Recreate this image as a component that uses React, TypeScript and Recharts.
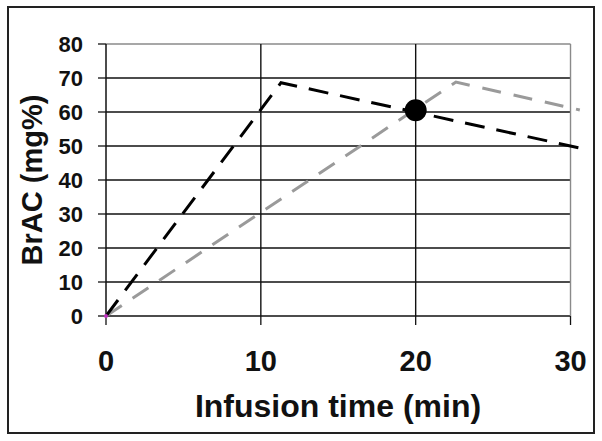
import React from 'react';
import { LineChart, Line, XAxis, YAxis, ReferenceLine, ReferenceDot, Label } from 'recharts';

const xTicks = [0, 10, 20, 30];
const yTicks = [0, 10, 20, 30, 40, 50, 60, 70, 80];
const blackTimes = [0, 11.3, 30.8];
const blackValues = [0, 68.6, 49.2];
const grayTimes = [0, 22.6, 30.6];
const grayValues = [0, 68.8, 60.6];
const markerTime = 20;
const markerValue = 60.5;
const xTitle = 'Infusion time (min)';
const yTitle = 'BrAC (mg%)';

const blackData = blackTimes.map((t, i) => ({ t, v: blackValues[i] }));
const grayData = grayTimes.map((t, i) => ({ t, v: grayValues[i] }));

const FONT = '"Liberation Sans", Arial, sans-serif';
const X_MAX = 30;
const Y_MAX = 80;

export default function App() {
  return (
    <div style={{ position: 'absolute', left: 0, top: 0, width: 602, height: 441, background: '#fff' }}>
      <div
        style={{
          position: 'absolute',
          left: 7,
          top: 6,
          width: 584,
          height: 424,
          border: '2px solid #222',
        }}
      />
      <div style={{ position: 'absolute', left: 0, top: 0 }}>
        <LineChart
          width={602}
          height={441}
          margin={{ top: 44, right: 16, bottom: 0, left: 46 }}
          style={{ fontFamily: FONT }}
        >
          <XAxis
            type="number"
            dataKey="t"
            domain={[0, 31]}
            ticks={xTicks}
            allowDataOverflow
            axisLine={false}
            tickLine={{ stroke: '#111', strokeWidth: 1.3 }}
            tickSize={9}
            tickMargin={25}
            height={125}
            tick={{ fill: '#111', fontSize: 29, fontWeight: 'bold', fontFamily: FONT }}
          >
            <Label
              content={(props: any) => {
                const vb = props.viewBox;
                return (
                  <text
                    x={338}
                    y={vb.y + 101}
                    textAnchor="middle"
                    fontSize={32}
                    fontWeight="bold"
                    fontFamily={FONT}
                    fill="#111"
                  >
                    {xTitle}
                  </text>
                );
              }}
            />
          </XAxis>
          <YAxis
            type="number"
            dataKey="v"
            domain={[0, Y_MAX]}
            ticks={yTicks}
            axisLine={{ stroke: '#111', strokeWidth: 1.5 }}
            tickLine={{ stroke: '#111', strokeWidth: 1.3 }}
            tickSize={8}
            tickMargin={15}
            width={60}
            tick={{ fill: '#111', fontSize: 22, fontWeight: 'bold', fontFamily: FONT }}
          >
            <Label
              content={() => (
                <text
                  x={0}
                  y={0}
                  transform={`translate(42, 180) rotate(-90)`}
                  textAnchor="middle"
                  fontSize={29}
                  fontWeight="bold"
                  fontFamily={FONT}
                  fill="#111"
                >
                  {yTitle}
                </text>
              )}
            />
          </YAxis>
          {yTicks.map((y) => (
            <ReferenceLine
              key={'h' + y}
              segment={[
                { x: 0, y },
                { x: X_MAX, y },
              ]}
              stroke={y === Y_MAX ? '#8a8a8a' : '#111'}
              strokeWidth={1.4}
              ifOverflow="visible"
            />
          ))}
          {xTicks
            .filter((x) => x > 0)
            .map((x) => (
              <ReferenceLine
                key={'v' + x}
                segment={[
                  { x, y: 0 },
                  { x, y: Y_MAX },
                ]}
                stroke={x === X_MAX ? '#8a8a8a' : '#111'}
                strokeWidth={1.4}
                ifOverflow="visible"
              />
            ))}
          <Line
            data={grayData}
            dataKey="v"
            type="linear"
            stroke="#9a9a9a"
            strokeWidth={3}
            strokeDasharray="19 13"
            dot={false}
            activeDot={false}
            isAnimationActive={false}
          />
          <Line
            data={blackData}
            dataKey="v"
            type="linear"
            stroke="#000"
            strokeWidth={3}
            strokeDasharray="20 12"
            dot={false}
            activeDot={false}
            isAnimationActive={false}
          />
          <ReferenceDot x={0} y={0} r={2} fill="#c030c0" stroke="none" ifOverflow="visible" />
          <ReferenceDot x={markerTime} y={markerValue} r={11} fill="#000" stroke="none" ifOverflow="visible" />
        </LineChart>
      </div>
    </div>
  );
}
